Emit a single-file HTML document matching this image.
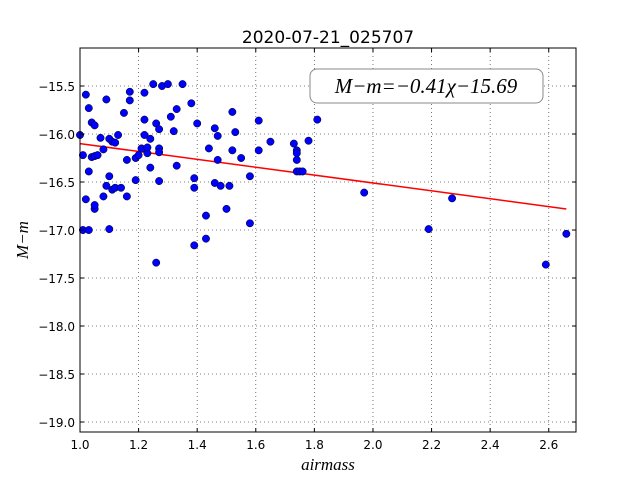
<!DOCTYPE html>
<html><head><meta charset="utf-8"><style>
body{margin:0;background:#fff;}
svg text{font-family:"DejaVu Sans","Liberation Sans",sans-serif;}
</style></head><body>
<svg id="chart" width="640" height="480" xmlns="http://www.w3.org/2000/svg">
<rect width="640" height="480" fill="#fff"/>
<g id="grid"></g>
<g id="fit"></g>
<g id="pts"></g>
<rect x="80" y="48" width="496" height="384" fill="none" stroke="#000" stroke-width="1"/>
<g id="ticks"></g>
<text x="328" y="43" text-anchor="middle" font-size="17">2020-07-21_025707</text>
<rect x="310" y="69" width="233" height="34" rx="7" fill="#fff" stroke="#888" stroke-width="1"/>
<text x="426" y="93" text-anchor="middle" font-size="21" style="font-family:'Liberation Serif',serif;font-style:italic">M−m=−0.41χ−15.69</text>
<text x="328" y="470" text-anchor="middle" font-size="17" style="font-family:'Liberation Serif',serif;font-style:italic">airmass</text>
<text x="0" y="0" transform="translate(28,240) rotate(-90)" text-anchor="middle" font-size="17" style="font-family:'Liberation Serif',serif;font-style:italic">M−m</text>
</svg>
<script>
const xs=[1.00,1.01,1.01,1.02,1.02,1.03,1.03,1.03,1.04,1.05,1.04,1.05,1.05,1.05,1.06,1.07,1.08,1.08,1.09,1.09,1.10,1.10,1.10,1.11,1.11,1.12,1.12,1.13,1.14,1.15,1.16,1.16,1.17,1.17,1.19,1.19,1.20,1.21,1.22,1.22,1.22,1.23,1.23,1.24,1.24,1.25,1.26,1.26,1.27,1.27,1.27,1.27,1.28,1.30,1.31,1.32,1.33,1.33,1.35,1.38,1.39,1.39,1.39,1.40,1.43,1.43,1.44,1.46,1.46,1.47,1.47,1.48,1.50,1.51,1.52,1.52,1.53,1.55,1.58,1.58,1.61,1.61,1.65,1.73,1.74,1.74,1.74,1.74,1.75,1.76,1.78,1.81,1.97,2.19,2.27,2.59,2.66];
const ys=[-16.01,-16.22,-17.00,-16.68,-15.59,-15.73,-17.00,-16.39,-15.88,-15.91,-16.24,-16.78,-16.74,-16.23,-16.22,-16.04,-16.65,-16.16,-15.64,-16.54,-16.99,-16.05,-16.44,-16.08,-16.58,-16.09,-16.56,-16.01,-16.56,-15.78,-16.65,-16.27,-15.56,-15.65,-16.48,-16.25,-16.22,-16.15,-15.57,-16.01,-15.85,-16.20,-16.14,-16.35,-16.05,-15.48,-17.34,-15.89,-16.15,-16.49,-16.19,-15.95,-15.50,-15.48,-15.82,-15.97,-15.74,-16.33,-15.48,-15.68,-16.56,-17.16,-16.46,-15.89,-17.09,-16.85,-16.15,-16.51,-15.94,-16.27,-16.02,-16.54,-16.78,-16.54,-16.17,-15.77,-15.98,-16.25,-16.44,-16.93,-15.86,-16.17,-16.08,-16.10,-16.39,-16.27,-16.17,-16.20,-16.39,-16.39,-16.07,-15.85,-16.61,-16.99,-16.67,-17.36,-17.04];
const slope=-0.41, intercept=-15.69;
const xTicks=[1.0,1.2,1.4,1.6,1.8,2.0,2.2,2.4,2.6];
const yTicks=[-15.5,-16.0,-16.5,-17.0,-17.5,-18.0,-18.5,-19.0];
const X0=80,X1=576,Y0=48,Y1=432,xmin=1.0,xmax=2.693,ymin=-19.104,ymax=-15.104;
const sx=v=>X0+(v-xmin)/(xmax-xmin)*(X1-X0);
const sy=v=>Y1-(v-ymin)/(ymax-ymin)*(Y1-Y0);
const NS='http://www.w3.org/2000/svg';
function mk(tag,attrs,parent){const e=document.createElementNS(NS,tag);for(const k in attrs)e.setAttribute(k,attrs[k]);document.getElementById(parent).appendChild(e);return e;}
xTicks.forEach(t=>{const x=sx(t);
 let g=mk('line',{x1:x,x2:x,y1:Y0,y2:Y1,stroke:'#555','stroke-dasharray':'1,3','stroke-width':0.8},'grid');
 
 
 let a=mk('line',{x1:x,x2:x,y1:Y1,y2:Y1-4,stroke:'#000'},'ticks');
 
 
 let b=mk('line',{x1:x,x2:x,y1:Y0,y2:Y0+4,stroke:'#000'},'ticks');
 
 
 let l=mk('text',{x:x,y:Y1+17,'text-anchor':'middle','font-size':12},'ticks');l.textContent=t.toFixed(1);
 
 
});
yTicks.forEach(t=>{const y=sy(t);
 let g=mk('line',{x1:X0,x2:X1,y1:y,y2:y,stroke:'#555','stroke-dasharray':'1,3','stroke-width':0.8},'grid');
 
 
 let a=mk('line',{x1:X0,x2:X0+4,y1:y,y2:y,stroke:'#000'},'ticks');
 
 
 let b=mk('line',{x1:X1,x2:X1-4,y1:y,y2:y,stroke:'#000'},'ticks');
 
 
 let l=mk('text',{x:X0-5,y:y+5,'text-anchor':'end','font-size':12},'ticks');l.textContent=t.toFixed(1).replace('-','−');
 
 
});
const fx0=Math.min(...xs),fx1=Math.max(...xs);
let fl=mk('line',{x1:sx(fx0),y1:sy(slope*fx0+intercept),x2:sx(fx1),y2:sy(slope*fx1+intercept),stroke:'#f00','stroke-width':1.5},'fit');


xs.forEach((v,i)=>{
 let c=mk('circle',{cx:sx(v),cy:sy(ys[i]),r:3.7,fill:'#0000ff',stroke:'#000','stroke-width':0.5},'pts');
 
 
});
</script>
</body></html>
